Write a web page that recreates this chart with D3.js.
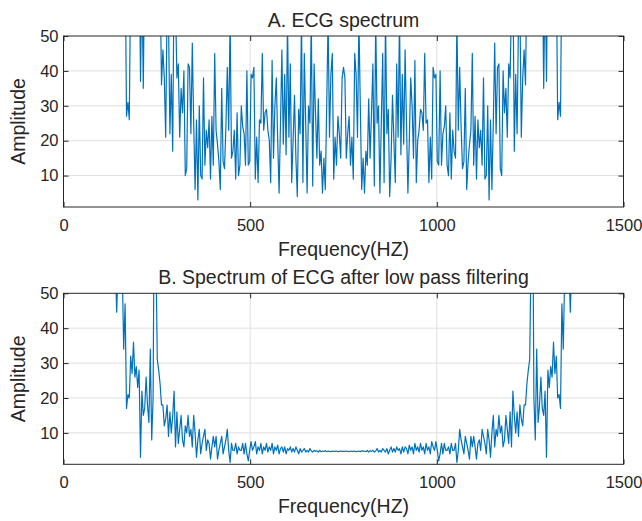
<!DOCTYPE html>
<html>
<head>
<meta charset="utf-8">
<script src="https://cdn.jsdelivr.net/npm/d3@7"></script>
<style>
  body { margin: 0; background: #fff; }
  text { font-family: "Liberation Sans", Arial, Helvetica, sans-serif; fill: #262626; }
</style>
</head>
<body>
<div id="chart"></div>
<script>
// FFT bins: 400 samples over 0..1500 Hz
var sampleRate = 1500;
var binCount = 400;

var xTicks = [0, 500, 1000, 1500];
var yTicks = [10, 20, 30, 40, 50];
var yRange = [1, 50];

var titles = ["A. ECG spectrum", "B. Spectrum of ECG after low pass filtering"];
var xLabel = "Frequency(HZ)";
var yLabel = "Amplitude";

// amplitude (values above 50 are off the axes)
var ecgSpectrum = [
  1800, 950, 620, 480, 300, 410, 350, 260, 330, 220,
  280, 190, 240, 160, 210, 150, 180, 130, 170, 120,
  140, 110, 150, 100, 130, 95, 120, 90, 110, 85,
  105, 80, 100, 78, 95, 75, 90, 72, 88, 70,
  85, 68, 80, 66, 75, 27, 31, 26, 70, 85,
  66, 90, 72, 64, 80, 37, 68, 35, 75, 62,
  88, 70, 60, 78, 66, 58, 72, 63, 56, 68,
  36, 46, 38, 21, 60, 55, 22, 39, 17, 70,
  60, 38, 42, 21, 35, 28, 40, 10, 12, 42,
  41, 22, 48, 25, 6, 26, 3, 30, 10, 9,
  38, 13, 23, 18, 26, 9, 27, 13, 45, 23,
  19, 14, 6, 35, 14, 12, 24, 41, 23, 55,
  15, 17, 23, 9, 28, 10, 13, 30, 24, 22,
  13, 40, 13, 14, 39, 38, 41, 9, 21, 8,
  26, 25, 45, 23, 28, 29, 23, 20, 8, 43,
  15, 30, 38, 20, 5, 25, 46, 19, 39, 16,
  55, 21, 42, 8, 20, 33, 15, 4, 29, 22,
  55, 8, 45, 25, 5, 30, 25, 55, 7, 42,
  28, 15, 32, 13, 17, 5, 15, 6, 30, 55,
  21, 39, 45, 9, 21, 13, 27, 22, 15, 38,
  41,
  38, 15, 22, 27, 13, 21, 9, 45, 39, 21,
  55, 30, 6, 15, 5, 17, 13, 32, 15, 28,
  42, 7, 55, 25, 30, 5, 25, 45, 8, 55,
  22, 29, 4, 15, 33, 20, 8, 42, 21, 55,
  16, 39, 19, 46, 25, 5, 20, 38, 30, 15,
  43, 8, 20, 23, 29, 28, 23, 45, 25, 26,
  8, 21, 9, 41, 38, 39, 14, 13, 40, 13,
  22, 24, 30, 13, 10, 28, 9, 23, 17, 15,
  55, 23, 41, 24, 12, 14, 35, 6, 14, 19,
  23, 45, 13, 27, 9, 26, 18, 23, 13, 38,
  9, 10, 30, 3, 26, 6, 25, 48, 22, 41,
  42, 12, 10, 40, 28, 35, 21, 42, 38, 60,
  70, 17, 39, 22, 55, 60, 21, 38, 46, 36,
  68, 56, 63, 72, 58, 66, 78, 60, 70, 88,
  62, 75, 35, 68, 37, 80, 64, 72, 90, 66,
  85, 70, 26, 31, 27, 75, 66, 80, 68, 85,
  70, 88, 72, 90, 75, 95, 78, 100, 80, 105,
  85, 110, 90, 120, 95, 130, 100, 150, 110, 140,
  120, 170, 130, 180, 150, 210, 160, 240, 190, 280,
  220, 330, 260, 350, 410, 300, 480, 620, 950
];

// amplitude after the low pass filter
var filteredSpectrum = [
  2500, 1400, 900, 600, 450, 520, 380, 300, 340, 260,
  230, 280, 200, 180, 220, 160, 150, 175, 130, 140,
  120, 135, 110, 100, 118, 95, 90, 102, 85, 80,
  92, 75, 70, 82, 66, 62, 72, 58, 44.6, 58,
  70, 62, 56, 34, 47, 17, 21, 20, 32, 27,
  36, 26, 29, 23, 28, 3, 22, 15, 17, 26,
  18, 13, 34, 8, 20, 90, 62, 31, 28, 24,
  18, 18, 12, 14, 18, 9, 16, 10, 15, 22,
  6, 16, 7, 11, 15, 8, 6, 12, 10, 15,
  9, 11, 6, 15, 10, 3, 8, 11, 4, 7,
  9, 11, 5, 8, 7, 2.5, 6, 9, 6, 9,
  2.5, 5, 7, 9, 4, 6, 8, 11, 5, 1.5,
  7, 5, 5, 7, 4, 6, 5, 5, 7, 4,
  7, 4, 2, 5, 7.5, 5, 6, 7.5, 4, 6,
  5, 7, 4, 6, 5, 7, 4.5, 6, 5, 7,
  4, 6, 5, 6.5, 4, 5.5, 6, 4.5, 6, 4,
  5.5, 5, 6, 4.5, 5.5, 4.5, 6, 5, 4, 5.5,
  4.5, 5, 5.5, 4.5, 5, 4.5, 5.5, 4.8, 4.5, 5,
  4.7, 4.9, 4.5, 5, 4.6, 4.8, 4.7, 4.9, 4.6, 4.8,
  4.7, 4.6, 4.8, 4.7, 4.7, 4.8, 4.6, 4.7, 4.8, 4.7,
  4.7,
  4.7, 4.8, 4.7, 4.6, 4.8, 4.7, 4.7, 4.8, 4.6, 4.7,
  4.8, 4.6, 4.9, 4.7, 4.8, 4.6, 5, 4.5, 4.9, 4.7,
  5, 4.5, 4.8, 5.5, 4.5, 5, 4.5, 5.5, 5, 4.5,
  5.5, 4, 5, 6, 4.5, 5.5, 4.5, 6, 5, 5.5,
  4, 6, 4.5, 6, 5.5, 4, 6.5, 5, 6, 4,
  7, 5, 6, 4.5, 7, 5, 6, 4, 7, 5,
  6, 4, 7.5, 6, 5, 7.5, 5, 2, 4, 7,
  4, 7, 5, 5, 6, 4, 7, 5, 5, 7,
  1.5, 5, 11, 8, 6, 4, 9, 7, 5, 2.5,
  9, 6, 9, 6, 2.5, 7, 8, 5, 11, 9,
  7, 4, 11, 8, 3, 10, 15, 6, 11, 9,
  15, 10, 12, 6, 8, 15, 11, 7, 16, 6,
  22, 15, 10, 16, 9, 18, 14, 12, 18, 18,
  24, 28, 31, 62, 90, 20, 8, 34, 13, 18,
  26, 17, 15, 22, 3, 28, 23, 29, 26, 36,
  27, 32, 20, 21, 17, 47, 34, 56, 62, 70,
  58, 44.6, 58, 72, 62, 66, 82, 70, 75, 92,
  80, 85, 102, 90, 95, 118, 100, 110, 135, 120,
  140, 130, 175, 150, 160, 220, 180, 200, 280, 230,
  260, 340, 300, 380, 520, 450, 600, 900, 1400
];

var series = [ecgSpectrum, filteredSpectrum];

var svgWidth = 642;
var svgHeight = 521;

var margin = { left: 63.5, top: 36 };
var width = 560;
var height = 171;
var panelTops = [36, 293.3];

var inkColor = "#262626";
var lineColor = "#0072BD";
var gridColor = "#dfdfdf";

var svg = d3.select("#chart")
  .append("svg")
  .attr("width", svgWidth)
  .attr("height", svgHeight);

// shared scales
var xScale = d3.scaleLinear()
  .domain([0, sampleRate])
  .range([0, width]);

var yScale = d3.scaleLinear()
  .domain(yRange)
  .range([height, 0]);

// frequency of every bin
var frequency = d3.range(binCount).map(i => i * sampleRate / binCount);

series.forEach(function(values, p) {

  var g = svg.append("g")
    .attr("transform", `translate(${margin.left}, ${panelTops[p]})`);

  // clip the trace to the axes box like matlab does
  g.append("clipPath")
    .attr("id", "clip" + p)
    .append("rect")
    .attr("width", width)
    .attr("height", height);

  // grid
  g.selectAll(".xgrid")
    .data(xTicks.slice(1, -1))
    .enter()
    .append("line")
    .attr("x1", d => xScale(d))
    .attr("x2", d => xScale(d))
    .attr("y1", 0)
    .attr("y2", height)
    .attr("stroke", gridColor);

  g.selectAll(".ygrid")
    .data(yTicks.slice(0, -1))
    .enter()
    .append("line")
    .attr("x1", 0)
    .attr("x2", width)
    .attr("y1", d => yScale(d))
    .attr("y2", d => yScale(d))
    .attr("stroke", gridColor);

  // trace
  var line = d3.line()
    .x((d, i) => xScale(frequency[i]))
    .y(d => yScale(d));

  g.append("path")
    .datum(values)
    .attr("clip-path", `url(#clip${p})`)
    .attr("d", line)
    .attr("fill", "none")
    .attr("stroke", lineColor)
    .attr("stroke-width", 1.2)
    .attr("stroke-linejoin", "round");

  // axes, ticks pointing inside
  var bottomAxis = d3.axisBottom(xScale).tickValues(xTicks)
    .tickFormat(d3.format("d"))
    .tickSizeInner(-5).tickSizeOuter(0).tickPadding(12);
  var topAxis = d3.axisTop(xScale).tickValues(xTicks)
    .tickSizeInner(-5).tickSizeOuter(0).tickFormat("");
  var leftAxis = d3.axisLeft(yScale).tickValues(yTicks)
    .tickSizeInner(-5).tickSizeOuter(0).tickPadding(5);
  var rightAxis = d3.axisRight(yScale).tickValues(yTicks)
    .tickSizeInner(-5).tickSizeOuter(0).tickFormat("");

  var axes = [
    g.append("g").attr("transform", `translate(0, ${height})`).call(bottomAxis),
    g.append("g").call(topAxis),
    g.append("g").call(leftAxis),
    g.append("g").attr("transform", `translate(${width}, 0)`).call(rightAxis)
  ];

  axes.forEach(function(a) {
    a.select(".domain").remove();
    a.selectAll("line").attr("stroke", inkColor);
    a.selectAll("text")
      .attr("font-size", "16.5px")
      .attr("font-family", null)
      .attr("fill", inkColor);
  });

  // box
  g.append("rect")
    .attr("width", width)
    .attr("height", height)
    .attr("fill", "none")
    .attr("stroke", inkColor)
    .attr("stroke-width", 1);

  // title
  g.append("text")
    .attr("x", width / 2)
    .attr("y", -9.5)
    .attr("text-anchor", "middle")
    .attr("font-size", "19.5px")
    .text(titles[p]);

  // axis labels
  g.append("text")
    .attr("x", width / 2)
    .attr("y", height + 49)
    .attr("text-anchor", "middle")
    .attr("font-size", "19.5px")
    .text(xLabel);

  g.append("text")
    .attr("transform", `translate(${25 - margin.left}, ${height / 2}) rotate(-90)`)
    .attr("text-anchor", "middle")
    .attr("font-size", "19.5px")
    .text(yLabel);
});
</script>
</body>
</html>
